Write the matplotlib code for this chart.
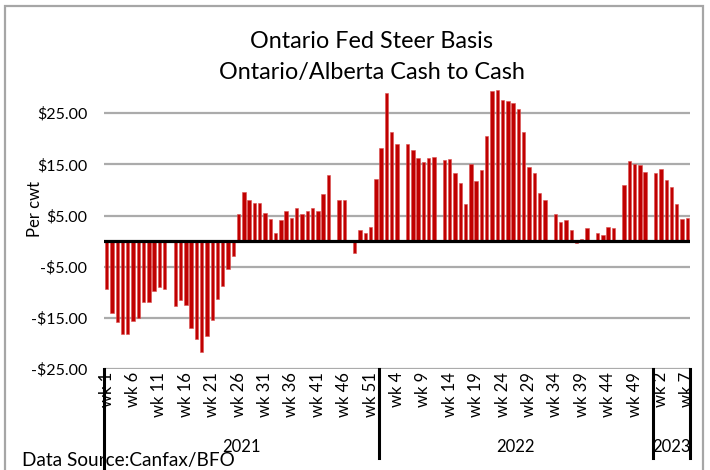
import numpy as np
import matplotlib
matplotlib.use("Agg")
import matplotlib.pyplot as plt
from matplotlib.patches import Rectangle

plt.rcParams['font.family'] = ['Lato', 'DejaVu Sans']

# weekly Ontario/Alberta cash-to-cash basis, $/cwt (None = no data that week)
basis_2021 = [-9.4, -14.1, -15.9, -18.1, -18.1, -15.7, -15.0, -11.9, -11.9, -9.7,
              -8.9, -9.3, None, -12.7, -11.6, -12.5, -16.9, -19.2, -21.7, -18.5,
              -15.5, -11.3, -8.8, -5.4, -3.0, 5.2, 9.6, 8.0, 7.4, 7.4,
              5.4, 4.4, 1.5, 4.1, 5.8, 4.5, 6.4, 5.2, 5.8, 6.4,
              5.8, 9.2, 12.9, None, 8.0, 8.0, None, -2.4, 2.2, 1.5,
              2.8, 12.1]
basis_2022 = [18.1, 29.0, 21.3, 18.9, None, 18.9, 17.9, 16.3, 15.5, 16.3,
              16.5, None, 15.9, 16.1, 13.3, 11.3, 7.3, 15.1, 11.7, 13.9,
              20.6, 29.4, 29.6, 27.6, 27.3, 27.0, 25.8, 21.3, 14.5, 13.3,
              9.4, 8.0, None, 5.2, 3.7, 4.1, 2.1, -0.4, 0.5, 2.5,
              None, 1.5, 1.1, 2.8, 2.5, None, 11.0, 15.7, 15.1, 14.9,
              13.6, None]
basis_2023 = [13.3, 14.1, 11.9, 10.5, 7.2, 4.3, 4.5]
years = ['2021', '2022', '2023']
y_ticks = [-25, -15, -5, 5, 15, 25]

series = [basis_2021, basis_2022, basis_2023]
values = np.array([np.nan if v is None else v for s in series for v in s], dtype=float)
week_labels = ['wk %d' % (i + 1) for s in series for i in range(len(s))]
x = np.arange(len(values))

fig = plt.figure(figsize=(7.1, 4.7), dpi=100)
ax = fig.add_axes([104 / 710, 101 / 470, 586 / 710, 281.4 / 470])

ax.bar(x, values, width=0.64, color='#C00000', edgecolor='#DA5050', linewidth=0.4, zorder=3)
ax.axhline(0, color='black', lw=2.3, zorder=4)

ax.set_xlim(-0.5, len(values) - 0.5)
ax.set_ylim(-25, 30)
ax.set_yticks(y_ticks)
ax.set_yticklabels(['$%.2f' % v if v >= 0 else '-$%.2f' % -v for v in y_ticks], fontsize=11.5)
ax.tick_params(axis='y', length=0, pad=12)
for v in y_ticks:
    ax.axhline(v, color='#ABABAB', lw=1.6, zorder=1)
for sp in ax.spines.values():
    sp.set_visible(False)

ax.set_xticks(x[::5])
ax.set_xticklabels(week_labels[::5], rotation=90, fontsize=12, va='top')
ax.tick_params(axis='x', length=0, pad=2)

# year groups below week labels
trans = ax.get_xaxis_transform()
bounds = [-0.5]
for s in series:
    bounds.append(bounds[-1] + len(s))
for i, b in enumerate(bounds):
    low = -0.352 if i == 0 else -0.316
    ax.plot([b, b], [0, low], transform=trans, color='black', lw=2.2, clip_on=False, zorder=5)
for yr, a, b in zip(years, bounds[:-1], bounds[1:]):
    ax.text((a + b) / 2, -0.277, yr, transform=trans, ha='center', va='center', fontsize=12)

ax.set_ylabel('Per cwt', fontsize=12)
ax.yaxis.set_label_coords(43 / 710, 261 / 470, transform=fig.transFigure)

fig.text(372 / 710, 1 - 42 / 470, 'Ontario Fed Steer Basis', ha='center', va='center', fontsize=16.8)
fig.text(372 / 710, 1 - 72 / 470, 'Ontario/Alberta Cash to Cash', ha='center', va='center', fontsize=16.8)
fig.text(22 / 710, 4 / 470, 'Data Source:Canfax/BFO', ha='left', va='baseline', fontsize=13.7)

fig.patches.append(Rectangle((5 / 710, -0.02), 698 / 710, 1.007, transform=fig.transFigure,
                             fill=False, edgecolor='#A6A6A6', lw=1.6))

fig.savefig('out.png', dpi=100)
